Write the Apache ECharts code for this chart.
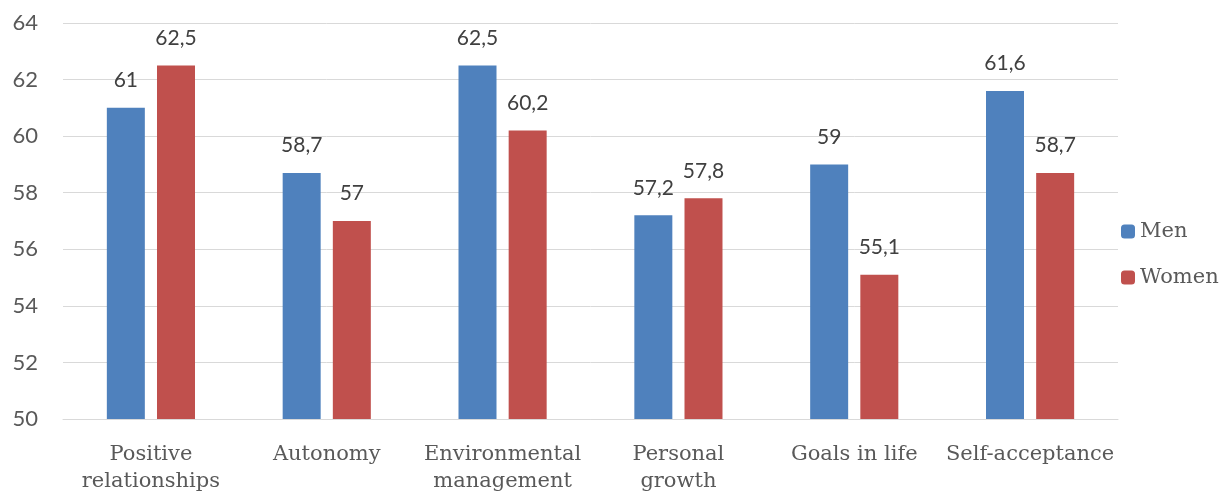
<!DOCTYPE html>
<html>
<head>
<meta charset="utf-8">
<script src="https://cdn.jsdelivr.net/npm/echarts@6/dist/echarts.min.js"></script>
<style>
  html, body { margin: 0; padding: 0; background: #fff; }
  #container { width: 1230px; height: 495px; }
</style>
</head>
<body>
<div id="container"></div>
<script>
let dom = document.getElementById("container");
let myChart = echarts.init(dom);

const categories = ['Positive\nrelationships', 'Autonomy', 'Environmental\nmanagement', 'Personal\ngrowth', 'Goals in life', 'Self-acceptance'];
const menValues = [61, 58.7, 62.5, 57.2, 59, 61.6];
const womenValues = [62.5, 57, 60.2, 57.8, 55.1, 58.7];

const sansFont = 'Lato';
const serifFont = 'DejaVu Serif';

// comma decimal like the original
function commaLabel(p) {
    return String(p.value).replace('.', ',');
}

let option = {
    animation: false,
    grid: {
        left: 63,
        right: 112,
        top: 23,
        bottom: 73
    },
    legend: {
        orient: 'vertical',
        left: 1116,
        top: 216,
        itemWidth: 14,
        itemHeight: 14,
        itemGap: 25,
        textStyle: {
            fontFamily: serifFont,
            fontSize: 21,
            color: '#595959'
        },
        data: ['Men', 'Women']
    },
    xAxis: {
        type: 'category',
        data: categories,
        axisTick: { show: false },
        axisLine: { lineStyle: { color: '#d9d9d9', width: 1 } },
        axisLabel: {
            interval: 0,
            margin: 22,
            fontFamily: serifFont,
            fontSize: 21,
            lineHeight: 27,
            color: '#595959'
        }
    },
    yAxis: {
        type: 'value',
        min: 50,
        max: 64,
        interval: 2,
        axisLine: { show: false },
        axisTick: { show: false },
        axisLabel: {
            margin: 25,
            fontFamily: sansFont,
            fontSize: 22,
            color: '#595959'
        },
        splitLine: { lineStyle: { color: '#d9d9d9', width: 1 } }
    },
    series: [
        {
            name: 'Men',
            type: 'bar',
            data: menValues,
            barWidth: 38,
            barGap: '32%',
            itemStyle: { color: '#4f81bd' },
            label: {
                show: true,
                position: 'top',
                distance: 17,
                formatter: commaLabel,
                fontFamily: sansFont,
                fontSize: 21,
                color: '#404040'
            }
        },
        {
            name: 'Women',
            type: 'bar',
            data: womenValues,
            barWidth: 38,
            itemStyle: { color: '#c0504d' },
            label: {
                show: true,
                position: 'top',
                distance: 17,
                formatter: commaLabel,
                fontFamily: sansFont,
                fontSize: 21,
                color: '#404040'
            }
        }
    ]
};

myChart.setOption(option, true);
</script>
</body>
</html>
